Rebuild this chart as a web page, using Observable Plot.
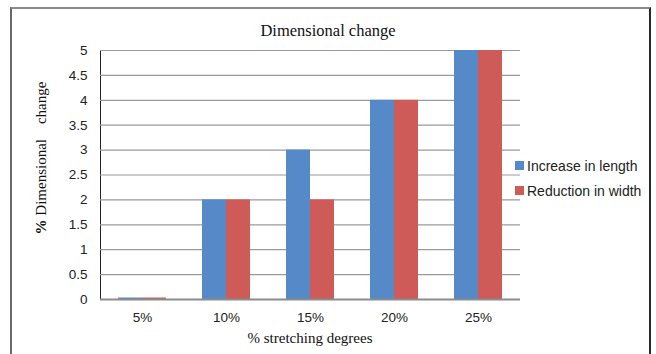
<!DOCTYPE html>
<html>
<head>
<meta charset="utf-8">
<script src="https://cdn.jsdelivr.net/npm/d3@7"></script>
<script src="https://cdn.jsdelivr.net/npm/@observablehq/plot@0.6"></script>
<style>
  html, body { margin: 0; padding: 0; background: #fff; }
  #wrap { position: relative; width: 656px; height: 354px; overflow: hidden; }
  #box { position: absolute; left: 10px; top: 7px; width: 641px; height: 360px;
         border-top: 2px solid #8a8a8a; border-left: 2px solid #6a6a6a; border-right: 2px solid #2a2a2a; box-sizing: border-box; }
  #title { position: absolute; left: 0; width: 656px; top: 21px; text-align: center;
           font: 16.5px "Liberation Serif", "Times New Roman", serif; color: #111; }
  #ytitle { position: absolute; left: 41px; top: 158px; transform: translate(-50%, -50%) rotate(-90deg);
            font: 15px "Liberation Serif", serif; color: #111; white-space: pre; }
  #xtitle { position: absolute; left: 100px; width: 420px; top: 330px; text-align: center;
            font: 15px "Liberation Serif", serif; color: #111; }
  #legend { position: absolute; left: 515px; top: 153px; font: 14px "Liberation Sans", Arial, sans-serif; color: #222; }
  #legend div { height: 25px; display: flex; align-items: center; }
  #legend span.sw { display: inline-block; width: 9px; height: 9px; margin-right: 3px; }
  #chart svg text { font-family: "Liberation Sans", Arial, sans-serif; }
</style>
</head>
<body>
<div id="wrap">
  <div id="box"></div>
  <div id="chart"></div>
  <div id="title">Dimensional change</div>
  <div id="ytitle"><b>%</b> Dimensional    change</div>
  <div id="xtitle">% stretching degrees</div>
  <div id="legend"></div>
</div>
<script>
// Stretching degrees and measured dimensional change (%)
const degrees = ["5%", "10%", "15%", "20%", "25%"];
const seriesNames = ["Increase in length", "Reduction in width"];
const increaseInLength = [0.03, 2, 3, 4, 5];
const reductionInWidth = [0.03, 2, 2, 4, 5];
const seriesColors = ["#5589C8", "#CF5B58"];
const yTicks = [0, 0.5, 1, 1.5, 2, 2.5, 3, 3.5, 4, 4.5, 5];

const seriesValues = [increaseInLength, reductionInWidth];
const rows = degrees.flatMap((d, i) =>
  seriesNames.map((s, j) => ({degree: d, series: s, value: seriesValues[j][i]}))
);

const chart = Plot.plot({
  width: 656,
  height: 354,
  marginLeft: 100,
  marginRight: 136,
  marginTop: 50,
  marginBottom: 55,
  style: {background: "transparent", fontSize: "13.5px", color: "#222"},
  fx: {domain: degrees, padding: 0, label: null, axis: "bottom", tickSize: 0, tickPadding: 13},
  x: {domain: seriesNames, axis: null, paddingInner: 0, paddingOuter: 0.75},
  y: {domain: [0, 5], ticks: yTicks, tickFormat: d => String(d), tickSize: 0, tickPadding: 13, label: null, line: true},
  color: {domain: seriesNames, range: seriesColors},
  marks: [
    Plot.ruleY(yTicks, {stroke: "#9a9a9a", strokeWidth: 1.2}),
    Plot.barY(rows, {fx: "degree", x: "series", y: "value", fill: "series"}),
    Plot.ruleY([0], {stroke: "#8c8c8c", strokeWidth: 2})
  ]
});
document.getElementById("chart").appendChild(chart);
chart.querySelectorAll('[aria-label="y-axis"] path').forEach(p => p.setAttribute("stroke", "#9a9a9a"));

const legend = document.getElementById("legend");
seriesNames.forEach((s, j) => {
  const row = document.createElement("div");
  const sw = document.createElement("span");
  sw.className = "sw";
  sw.style.background = seriesColors[j];
  row.appendChild(sw);
  row.appendChild(document.createTextNode(s));
  legend.appendChild(row);
});
</script>
</body>
</html>
